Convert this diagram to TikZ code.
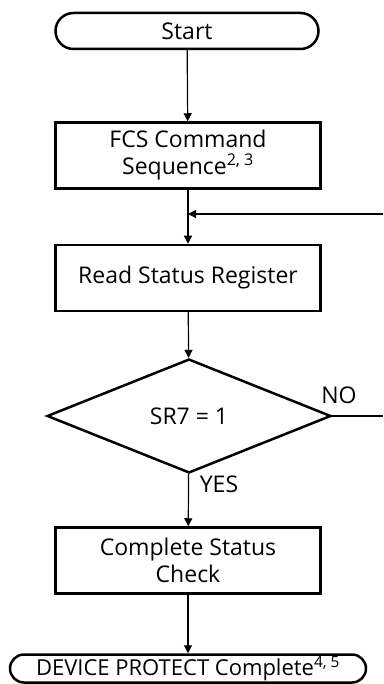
\documentclass[tikz,border=0pt]{standalone}
\usepackage{fontspec}
\setmainfont{Open Sans}
\usetikzlibrary{arrows.meta,positioning,shapes.geometric,shapes.misc}

\begin{document}
\begin{tikzpicture}[x={(1pt,0pt)},y={(0pt,-1pt)},
  font=\fontsize{23}{27}\selectfont,
  box/.style={draw,line width=2.5pt,minimum width=265pt,minimum height=66pt,align=center,inner sep=0pt},
  term/.style={draw,rounded rectangle,line width=2.5pt,inner sep=0pt},
  test/.style={draw,diamond,line width=2.5pt,minimum width=284pt,minimum height=114pt,inner sep=0pt},
  lbl/.style={font=\fontsize{23}{27}\selectfont},
  flow/.style={-{Triangle[length=8pt,width=8pt]},line width=1.2pt}]
%流程圖
\useasboundingbox (0,0) rectangle (383,684);

\node[term,minimum width=263pt,minimum height=36pt] (start) at (187,31) {Start};
\node[box] (fcs) at (188,155.5) {FCS Command\\Sequence\textsuperscript{2, 3}};
\node[box] (read) at (188,278) {Read Status Register};
\node[test] (sr7) at (189,416) {SR7 = 1};
\node[box] (check) at (188,560.5) {Complete Status\\Check};
\node[term,minimum width=356pt,minimum height=28pt,font=\fontsize{22}{26}\selectfont] (done) at (188,668.5) {DEVICE PROTECT Complete\textsuperscript{4, 5}};

\node[lbl] (no) at (339,395) {NO};
\node[lbl] (yes) at (219,484) {YES};

\coordinate (loopR) at (383,214);
\coordinate (noR) at (383,416);

\draw[flow] (start) -- (fcs);
\draw[flow] (fcs) -- (read);
\draw[flow] (loopR) -- (fcs.south |- loopR);
\draw[flow] (read) -- (sr7);
\draw[line width=1.2pt] (sr7.east) -- (noR);
\draw[flow] (sr7) -- (check);
\draw[flow] (check) -- (done);
\end{tikzpicture}
\end{document}
